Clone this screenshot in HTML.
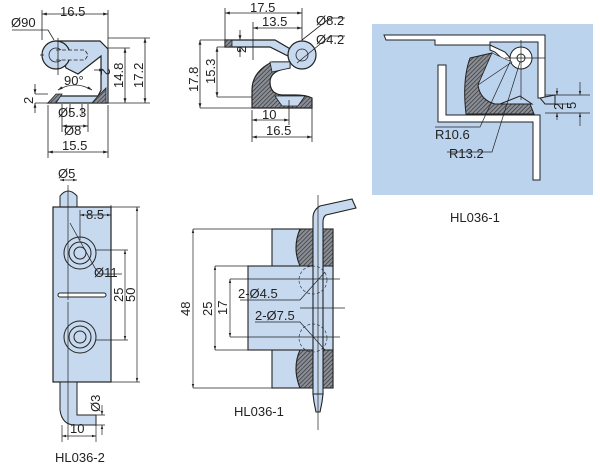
<!DOCTYPE html>
<html><head><meta charset="utf-8"><style>
html,body{margin:0;padding:0;background:#fff;}
svg{display:block;}
text{font-family:"Liberation Sans",sans-serif;font-size:13px;fill:#222;}
</style></head><body>
<svg width="600" height="466" viewBox="0 0 600 466" xmlns="http://www.w3.org/2000/svg">
<defs>
<pattern id="h" width="3" height="3" patternUnits="userSpaceOnUse" patternTransform="rotate(45)">
<rect width="3" height="3" fill="#8a8e96"/><line x1="0" y1="0" x2="0" y2="3" stroke="#333" stroke-width="1.4"/></pattern>
<marker id="a" viewBox="0 0 10 10" refX="10" refY="5" markerWidth="6" markerHeight="6" orient="auto-start-reverse"><path d="M0,2 L10,5 L0,8z" fill="#222"/></marker>
</defs>
<g stroke="#222" stroke-width="0.8" fill="none">
<!-- ===== Top-left view ===== -->
<path d="M56,41 L100,41 L108,49 L108,103 L48,103 L55,96 L98,96 L101,90 L101,56 L78,74 L66,68z" fill="#c6d9ef" stroke-width="1.2"/>
<circle cx="56" cy="55" r="14" fill="#c6d9ef" stroke-width="1.2"/>
<circle cx="56" cy="55" r="7" fill="#c6d9ef"/>
<path d="M56,50 L85,50 L88,55 L85,60 L56,60" fill="#c6d9ef" stroke-dasharray="4,2"/>
<path d="M48,103 L56,94 L62,94 L56,103z M98,96 L106,88 L106,103 L92,103z" fill="url(#h)"/>
<path d="M42,10 V40 M108,10 V48 M108,48 H130 M108,38 H150 M108,103 H150 M35,103 H48 M35,94 H48 M48,105 V158 M108,105 V158 M62,104 V132 M88,104 V132 M70,104 V115 M82,104 V115 M58,38 V75 M40,55 H44"/>
<line x1="42" y1="14" x2="108" y2="14" marker-start="url(#a)" marker-end="url(#a)"/>
<line x1="125" y1="48" x2="125" y2="103" marker-start="url(#a)" marker-end="url(#a)"/>
<line x1="145" y1="38" x2="145" y2="103" marker-start="url(#a)" marker-end="url(#a)"/>
<line x1="35" y1="84" x2="35" y2="94" marker-end="url(#a)"/><line x1="35" y1="113" x2="35" y2="103" marker-end="url(#a)"/>
<line x1="62" y1="126" x2="88" y2="126" marker-start="url(#a)" marker-end="url(#a)"/>
<line x1="48" y1="152" x2="108" y2="152" marker-start="url(#a)" marker-end="url(#a)"/>
<path d="M12,30 H48 L54,40"/>
<path d="M58,90 Q75,80 92,90" marker-start="url(#a)" marker-end="url(#a)"/>
<line x1="94" y1="70" x2="104" y2="70" marker-end="url(#a)"/>
<!-- ===== Top-middle view ===== -->
<path d="M225,40 L275,40 L292,50 L292,58 L270,47 L225,47z" fill="#c6d9ef" stroke-width="1.2"/>
<path d="M225,40 L232,40 L232,47 L225,47z" fill="url(#h)"/>
<circle cx="302" cy="55" r="14" fill="#c6d9ef" stroke-width="1.2"/>
<circle cx="302" cy="55" r="6" fill="#c6d9ef"/>
<path d="M290,62 L272,62 Q252,72 252,90 L252,108 L312,108 L312,98 Q306,95 296,95 L282,95 Q270,94 270,82 Q270,70 290,68z" fill="url(#h)" stroke-width="1.2"/>
<path d="M275,96 L305,96 L298,106 L282,106z" fill="#c6d9ef"/>
<path d="M270,62 L290,62 L290,68 L272,72z" fill="#c6d9ef"/>
<path d="M225,8 V40 M302,8 V41 M253,22 V60 M200,40 H225 M217,47 H225 M217,97 H252 M200,108 H252 M252,110 V142 M289,100 V125 M312,108 V142 M302,40 L330,18 H345 M297,63 L330,36 H345"/>
<line x1="225" y1="13" x2="302" y2="13" marker-start="url(#a)" marker-end="url(#a)"/>
<line x1="253" y1="28" x2="302" y2="28" marker-start="url(#a)" marker-end="url(#a)"/>
<line x1="200" y1="40" x2="200" y2="108" marker-start="url(#a)" marker-end="url(#a)"/>
<line x1="217" y1="47" x2="217" y2="97" marker-start="url(#a)" marker-end="url(#a)"/>
<line x1="252" y1="120" x2="289" y2="120" marker-start="url(#a)" marker-end="url(#a)"/>
<line x1="252" y1="137" x2="312" y2="137" marker-start="url(#a)" marker-end="url(#a)"/>
<line x1="240" y1="30" x2="240" y2="40" marker-end="url(#a)"/><line x1="240" y1="57" x2="240" y2="47" marker-end="url(#a)"/>
</g>
<!-- ===== Right panel ===== -->
<rect x="372" y="24" width="221" height="171" fill="#bcd3ee"/>
<g stroke="#222" stroke-width="1" fill="#fff">
<path d="M384,35 L545,35 L545,98 L538,98 L538,42 L530,42 L490,42 L490,45 L435,45 L435,40 L386,40z"/>
<path d="M490,45 L505,52 L512,60 L506,62 L495,52 L490,50z"/>
<circle cx="521" cy="58" r="11"/><circle cx="521" cy="58" r="4"/>
<path d="M438,65 L446,65 L446,115 L540,115 L540,180 L533,180 L533,122 L438,122z"/>
<path d="M470,58 L492,53 L478,85 Q480,100 495,104 L530,104 L534,114 L466,114 Q462,80 470,58z" fill="url(#h)"/>
<path d="M492,53 L512,62 L478,85z" fill="#bcd3ee" stroke-width="0.6"/>
<path d="M500,104 L520,96 L532,104z" fill="#bcd3ee"/>
<path d="M540,98 L555,95 L555,104 L545,104z" fill="#bcd3ee"/>
</g>
<g stroke="#222" stroke-width="0.7" fill="none">
<path d="M521,40 V100 M505,58 H545 M545,95 H590 M545,104 H570 M545,113 H590 M435,127 H480 L510,62 M447,152 H492 L520,62"/>
<line x1="557" y1="88" x2="557" y2="95" marker-end="url(#a)"/><line x1="557" y1="120" x2="557" y2="113" marker-end="url(#a)"/>
<line x1="580" y1="82" x2="580" y2="95" marker-end="url(#a)"/><line x1="580" y1="126" x2="580" y2="113" marker-end="url(#a)"/>
</g>
<!-- ===== Bottom-left view ===== -->
<g stroke="#222" stroke-width="1" fill="#c6d9ef">
<path d="M60,207 L60,196 Q68,186 77,196 L77,207z"/>
<rect x="53" y="207" width="58" height="175" stroke-width="1.2"/>
<path d="M60,382 L60,410 Q62,425 75,425 L96,425 L96,415 L77,415 L77,382z"/>
<circle cx="80" cy="253" r="16"/><circle cx="80" cy="253" r="11"/><circle cx="80" cy="253" r="6"/>
<circle cx="80" cy="337" r="16"/><circle cx="80" cy="337" r="11"/><circle cx="80" cy="337" r="6"/>
<rect x="58" y="293" width="48" height="4" rx="2" fill="#fff"/>
</g>
<g stroke="#222" stroke-width="0.7" fill="none">
<path d="M68,185 V300 M68,302 V440 M111,207 H140 M111,382 H140 M96,250 H128 M96,340 H128 M80,210 V240 M111,205 V215 M62,425 V442 M96,425 V442 M96,415 H105 M96,425 H105 M70,223 L95,268 L100,274 H122"/>
<line x1="60" y1="180" x2="77" y2="180" marker-start="url(#a)" marker-end="url(#a)"/>
<line x1="80" y1="215" x2="111" y2="215" marker-start="url(#a)" marker-end="url(#a)"/>
<line x1="125" y1="250" x2="125" y2="340" marker-start="url(#a)" marker-end="url(#a)"/>
<line x1="137" y1="207" x2="137" y2="382" marker-start="url(#a)" marker-end="url(#a)"/>
<line x1="62" y1="436" x2="96" y2="436" marker-start="url(#a)" marker-end="url(#a)"/>
<line x1="102" y1="405" x2="102" y2="415" marker-end="url(#a)"/><line x1="102" y1="435" x2="102" y2="425" marker-end="url(#a)"/>
</g>
<!-- ===== Bottom-middle view ===== -->
<g stroke="#222" stroke-width="1.1" fill="#c6d9ef">
<rect x="272" y="229" width="61" height="159"/>
<rect x="248" y="266" width="85" height="84"/>
<path d="M300,229 L313,229 L313,266 L300,266 Q292,248 300,229z M300,350 L313,350 L313,388 L300,388 Q292,368 300,350z" fill="url(#h)"/>
<path d="M323,229 L333,229 L333,266 L323,266z M323,350 L333,350 L333,388 L323,388z" fill="url(#h)"/>
<path d="M313,394 L313,218 Q313,210 320,206 L352,199 L356,208 L326,215 Q323,217 323,222 L323,394z"/>
<path d="M313,394 L323,394 L322,402 L320,412 L316,412 L314,402z"/>
<circle cx="313" cy="280" r="14" fill="none" stroke-width="0.6" stroke-dasharray="3,2"/>
<circle cx="313" cy="338" r="14" fill="none" stroke-width="0.6" stroke-dasharray="3,2"/>
</g>
<g stroke="#222" stroke-width="0.7" fill="none">
<path d="M193,229 H272 M193,388 H272 M215,266 H248 M215,350 H248 M230,279 H340 M230,337 H340 M300,308 H345 M318,195 V430 M240,300 H300 L325,272 M255,322 H300 L325,350"/>
<line x1="193" y1="229" x2="193" y2="388" marker-start="url(#a)" marker-end="url(#a)"/>
<line x1="215" y1="266" x2="215" y2="350" marker-start="url(#a)" marker-end="url(#a)"/>
<line x1="230" y1="279" x2="230" y2="337" marker-start="url(#a)" marker-end="url(#a)"/>
</g>
<!-- ===== Text ===== -->
<text x="60" y="16">16.5</text>
<text x="11" y="27">Ø90</text>
<text x="64" y="85">90°</text>
<text x="0" y="0" font-size="12" transform="translate(101,68) rotate(90)">2</text>
<text x="0" y="0" transform="translate(123,88) rotate(-90)">14.8</text>
<text x="0" y="0" transform="translate(143,88) rotate(-90)">17.2</text>
<text x="0" y="0" transform="translate(33,104) rotate(-90)">2</text>
<text x="58" y="117">Ø5.3</text>
<text x="64" y="135">Ø8</text>
<text x="62" y="150">15.5</text>
<text x="250" y="12">17.5</text>
<text x="262" y="26">13.5</text>
<text x="316" y="25">Ø8.2</text>
<text x="316" y="44">Ø4.2</text>
<text x="0" y="0" transform="translate(198,92) rotate(-90)">17.8</text>
<text x="0" y="0" transform="translate(215,84) rotate(-90)">15.3</text>
<text x="0" y="0" transform="translate(246,53) rotate(-90)" font-size="11">2</text>
<text x="262" y="119">10</text>
<text x="266" y="135">16.5</text>
<text x="435" y="139">R10.6</text>
<text x="449" y="158">R13.2</text>
<text x="0" y="0" transform="translate(563,110) rotate(-90)" font-size="11">2</text>
<text x="0" y="0" transform="translate(576,109) rotate(-90)" font-size="11">5</text>
<text x="450" y="222">HL036-1</text>
<text x="58" y="178">Ø5</text>
<text x="86" y="219">8.5</text>
<text x="94" y="277">Ø11</text>
<text x="0" y="0" transform="translate(123,302) rotate(-90)">25</text>
<text x="0" y="0" transform="translate(135,302) rotate(-90)">50</text>
<text x="0" y="0" transform="translate(100,412) rotate(-90)">Ø3</text>
<text x="70" y="433">10</text>
<text x="55" y="462">HL036-2</text>
<text x="0" y="0" transform="translate(190,316) rotate(-90)">48</text>
<text x="0" y="0" transform="translate(212,316) rotate(-90)">25</text>
<text x="0" y="0" transform="translate(227,315) rotate(-90)">17</text>
<text x="238" y="298">2-Ø4.5</text>
<text x="255" y="320">2-Ø7.5</text>
<text x="234" y="416">HL036-1</text>
</svg>
</body></html>
